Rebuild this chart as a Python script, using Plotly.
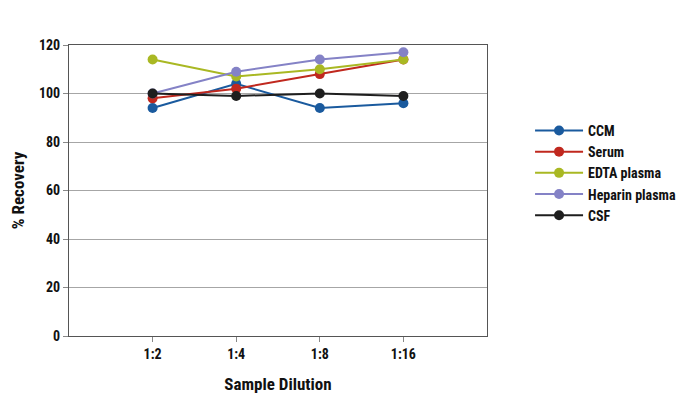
import plotly.graph_objects as go

categories = ["1:2", "1:4", "1:8", "1:16"]
series_names = ["CCM", "Serum", "EDTA plasma", "Heparin plasma", "CSF"]
ccm = [94, 104, 94, 96]
serum = [98, 102, 108, 114]
edta = [114, 107, 110, 114]
heparin = [100, 109, 114, 117]
csf = [100, 99, 100, 99]
colors = ["#1a5a9e", "#c0281e", "#a9b823", "#8482c6", "#1e1e1e"]

values = [ccm, serum, edta, heparin, csf]
FONT = "Roboto Condensed, Liberation Sans Narrow, Roboto, sans-serif"

fig = go.Figure()
for name, vals, col in zip(series_names, values, colors):
    fig.add_trace(go.Scatter(
        x=list(range(len(categories))), y=vals, name=name, mode="lines+markers",
        line=dict(color=col, width=2), marker=dict(color=col, size=10),
    ))

fig.update_layout(
    width=694, height=405,
    margin=dict(l=61, r=215, t=37, b=77),
    paper_bgcolor="white", plot_bgcolor="white",
    font=dict(family=FONT, size=14, color="#111"),
    showlegend=True,
    legend=dict(x=1.103, y=0.76, xanchor="left", yanchor="top",
                font=dict(family=FONT, size=14, color="#111", weight="bold"),
                bgcolor="rgba(0,0,0,0)", tracegroupgap=0, itemwidth=48),
    xaxis=dict(
        range=[-1, 4], tickvals=list(range(len(categories))), ticktext=categories,
        showgrid=False, zeroline=False, showline=True, linecolor="#555", linewidth=1,
        mirror=True, ticks="outside", ticklen=5, tickcolor="#888", automargin=False,
        tickfont=dict(family=FONT, size=14, color="#111", weight="bold"),
        title=dict(text="<b>Sample Dilution</b>", font=dict(family=FONT, size=17, color="#111"), standoff=17),
    ),
    yaxis=dict(
        range=[0, 120], dtick=20, showgrid=True, gridcolor="#a6a6a6", gridwidth=1,
        zeroline=False, showline=True, linecolor="#555", linewidth=1, mirror=True,
        ticks="outside", ticklen=5, tickcolor="#888", automargin=False,
        tickfont=dict(family=FONT, size=14, color="#111", weight="bold"),
        title=dict(text="<b>% Recovery</b>", font=dict(family=FONT, size=17, color="#111"), standoff=16),
    ),
)

fig.write_html("out.html")
